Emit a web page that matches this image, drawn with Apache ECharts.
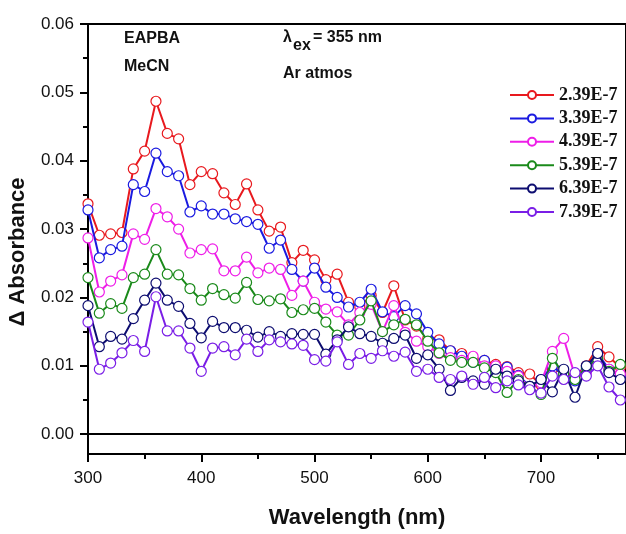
<!DOCTYPE html>
<html>
<head>
<meta charset="utf-8">
<script src="https://cdn.jsdelivr.net/npm/echarts@6/dist/echarts.min.js"></script>
<style>
html,body{margin:0;padding:0;background:#fff;}
#chart{width:626px;height:534px;}
</style>
</head>
<body>
<div id="chart"></div>
<script>
// ---- data ----
const wavelengths = [300,310,320,330,340,350,360,370,380,390,400,410,420,430,440,450,460,470,480,490,500,510,520,530,540,550,560,570,580,590,600,610,620,630,640,650,660,670,680,690,700,710,720,730,740,750,760,770];
const seriesNames = ["2.39E-7","3.39E-7","4.39E-7","5.39E-7","6.39E-7","7.39E-7"];
const s239 = [0.0337,0.0291,0.0293,0.0295,0.0388,0.0414,0.0487,0.0440,0.0432,0.0365,0.0384,0.0381,0.0353,0.0336,0.0366,0.0328,0.0297,0.0303,0.0251,0.0269,0.0255,0.0226,0.0234,0.0193,0.0186,0.0203,0.0178,0.0217,0.0167,0.0158,0.0140,0.0138,0.0122,0.0118,0.0110,0.0108,0.0102,0.0099,0.0090,0.0088,0.0072,0.0095,0.0090,0.0085,0.0100,0.0128,0.0113,0.0098];
const s339 = [0.0328,0.0258,0.0270,0.0275,0.0365,0.0355,0.0411,0.0384,0.0378,0.0325,0.0334,0.0322,0.0322,0.0315,0.0311,0.0307,0.0272,0.0284,0.0241,0.0224,0.0243,0.0215,0.0200,0.0186,0.0193,0.0212,0.0179,0.0172,0.0188,0.0176,0.0149,0.0132,0.0122,0.0114,0.0105,0.0108,0.0093,0.0098,0.0086,0.0070,0.0080,0.0100,0.0085,0.0078,0.0095,0.0118,0.0095,0.0085];
const s439 = [0.0287,0.0208,0.0224,0.0233,0.0293,0.0285,0.0330,0.0318,0.0300,0.0265,0.0270,0.0271,0.0239,0.0239,0.0259,0.0236,0.0243,0.0241,0.0203,0.0224,0.0193,0.0183,0.0179,0.0160,0.0178,0.0190,0.0150,0.0188,0.0149,0.0136,0.0128,0.0118,0.0112,0.0108,0.0114,0.0100,0.0100,0.0092,0.0085,0.0068,0.0075,0.0121,0.0140,0.0085,0.0090,0.0110,0.0095,0.0088];
const s539 = [0.0229,0.0177,0.0191,0.0184,0.0229,0.0234,0.0270,0.0234,0.0233,0.0213,0.0196,0.0213,0.0204,0.0199,0.0222,0.0197,0.0195,0.0198,0.0178,0.0182,0.0184,0.0164,0.0145,0.0145,0.0167,0.0195,0.0150,0.0160,0.0168,0.0160,0.0136,0.0119,0.0108,0.0105,0.0105,0.0097,0.0090,0.0061,0.0080,0.0070,0.0058,0.0111,0.0088,0.0080,0.0098,0.0110,0.0092,0.0102];
const s639 = [0.0188,0.0128,0.0143,0.0139,0.0169,0.0196,0.0221,0.0196,0.0187,0.0162,0.0141,0.0165,0.0156,0.0156,0.0152,0.0142,0.0150,0.0143,0.0147,0.0146,0.0146,0.0117,0.0138,0.0157,0.0147,0.0143,0.0133,0.0140,0.0145,0.0111,0.0116,0.0095,0.0064,0.0083,0.0078,0.0073,0.0095,0.0085,0.0078,0.0070,0.0080,0.0062,0.0095,0.0054,0.0100,0.0118,0.0090,0.0080];
const s739 = [0.0164,0.0095,0.0104,0.0119,0.0137,0.0121,0.0201,0.0151,0.0151,0.0126,0.0092,0.0126,0.0128,0.0116,0.0139,0.0121,0.0138,0.0135,0.0132,0.0130,0.0109,0.0107,0.0135,0.0102,0.0118,0.0111,0.0122,0.0114,0.0120,0.0092,0.0095,0.0083,0.0080,0.0085,0.0073,0.0083,0.0068,0.0078,0.0072,0.0065,0.0060,0.0085,0.0080,0.0090,0.0085,0.0100,0.0069,0.0050];
const yTickLabels = [0,0.01,0.02,0.03,0.04,0.05,0.06];
const yMinorTicks = [0.005,0.015,0.025,0.035,0.045,0.055];
const xTickLabels = [300,400,500,600,700];
const xMinorTicks = [350,450,550,650,750];

const allValues = [s239,s339,s439,s539,s639,s739];
const colors = ['#e8191e','#1a1ae0','#ee1ee8','#1a8a1a','#0d0d70','#7a1ee6'];

const chart = echarts.init(document.getElementById('chart'), null, {renderer:'canvas'});

const series = allValues.map((vals, i) => ({
  name: seriesNames[i],
  type: 'line',
  xAxisIndex: 0,
  yAxisIndex: 0,
  data: wavelengths.map((w, j) => [w, vals[j]]),
  symbol: 'circle',
  symbolSize: 10,
  showAllSymbol: true,
  lineStyle: {color: colors[i], width: 2},
  itemStyle: {color: '#ffffff', borderColor: colors[i], borderWidth: 1.2, opacity: 1},
  emphasis: {disabled: true},
  animation: false,
  z: 2 + i
}));
series[0].markLine = {
  silent: true,
  symbol: 'none',
  label: {show: false},
  lineStyle: {color: '#000', width: 2, type: 'solid'},
  data: [{yAxis: 0}],
  animation: false
};

const axisFont = {fontFamily: 'Liberation Sans', fontSize: 17, color: '#111'};

chart.setOption({
  backgroundColor: '#ffffff',
  animation: false,
  grid: {left: 88, top: 24, width: 540, height: 437, show: true, borderColor: '#000', borderWidth: 2, containLabel: false},
  legend: {
    orient: 'vertical',
    left: 509,
    top: 86,
    padding: 0,
    itemWidth: 44,
    itemHeight: 10,
    itemGap: 5.4,
    data: seriesNames,
    textStyle: {fontFamily: 'Liberation Serif', fontWeight: 'bold', fontSize: 18, lineHeight: 18, color: '#111'},
    selectedMode: false
  },
  xAxis: [{
    type: 'value', min: 300, max: 775, position: 'bottom',
    name: 'Wavelength (nm)', nameLocation: 'middle', nameGap: 53,
    nameTextStyle: {fontFamily: 'Liberation Sans', fontWeight: 'bold', fontSize: 22, color: '#111'},
    axisLine: {show: true, onZero: false, lineStyle: {color: '#000', width: 2}},
    axisTick: {show: true, inside: false, length: 8, customValues: xTickLabels, lineStyle: {color: '#000', width: 2}},
    axisLabel: {show: true, customValues: xTickLabels, margin: 16, ...axisFont},
    splitLine: {show: false}
  },{
    type: 'value', min: 300, max: 775, position: 'bottom',
    axisLine: {show: false, onZero: false},
    axisTick: {show: true, inside: false, length: 5, customValues: xMinorTicks, lineStyle: {color: '#000', width: 2}},
    axisLabel: {show: false},
    splitLine: {show: false}
  }],
  yAxis: [{
    type: 'value', min: -0.0029, max: 0.06, position: 'left',
    axisLine: {show: true, onZero: false, lineStyle: {color: '#000', width: 2}},
    axisTick: {show: true, inside: false, length: 8, customValues: yTickLabels, lineStyle: {color: '#000', width: 2}},
    axisLabel: {show: true, customValues: yTickLabels, margin: 14, formatter: v => v.toFixed(2), ...axisFont},
    splitLine: {show: false}
  },{
    type: 'value', min: -0.0029, max: 0.06, position: 'left',
    axisLine: {show: false, onZero: false},
    axisTick: {show: true, inside: false, length: 5, customValues: yMinorTicks, lineStyle: {color: '#000', width: 2}},
    axisLabel: {show: false},
    splitLine: {show: false}
  }],
  graphic: [
    {type: 'text', x: 18, y: 252, rotation: Math.PI / 2, style: {text: 'Δ Absorbance', font: 'bold 22px "Liberation Sans"', fill: '#111', align: 'center', verticalAlign: 'middle'}},
    {type: 'text', left: 124, top: 31, style: {text: 'EAPBA', font: 'bold 16px "Liberation Sans"', fill: '#111'}},
    {type: 'text', left: 124, top: 59, style: {text: 'MeCN', font: 'bold 16px "Liberation Sans"', fill: '#111'}},
    {type: 'text', left: 283, top: 30, style: {text: 'λ', font: 'bold 16px "Liberation Sans"', fill: '#111'}},
    {type: 'text', left: 293, top: 38, style: {text: 'ex', font: 'bold 16px "Liberation Sans"', fill: '#111'}},
    {type: 'text', left: 313, top: 30, style: {text: '= 355 nm', font: 'bold 16px "Liberation Sans"', fill: '#111'}},
    {type: 'text', left: 283, top: 66, style: {text: 'Ar atmos', font: 'bold 16px "Liberation Sans"', fill: '#111'}}
  ],
  series: series
});
</script>
</body>
</html>
